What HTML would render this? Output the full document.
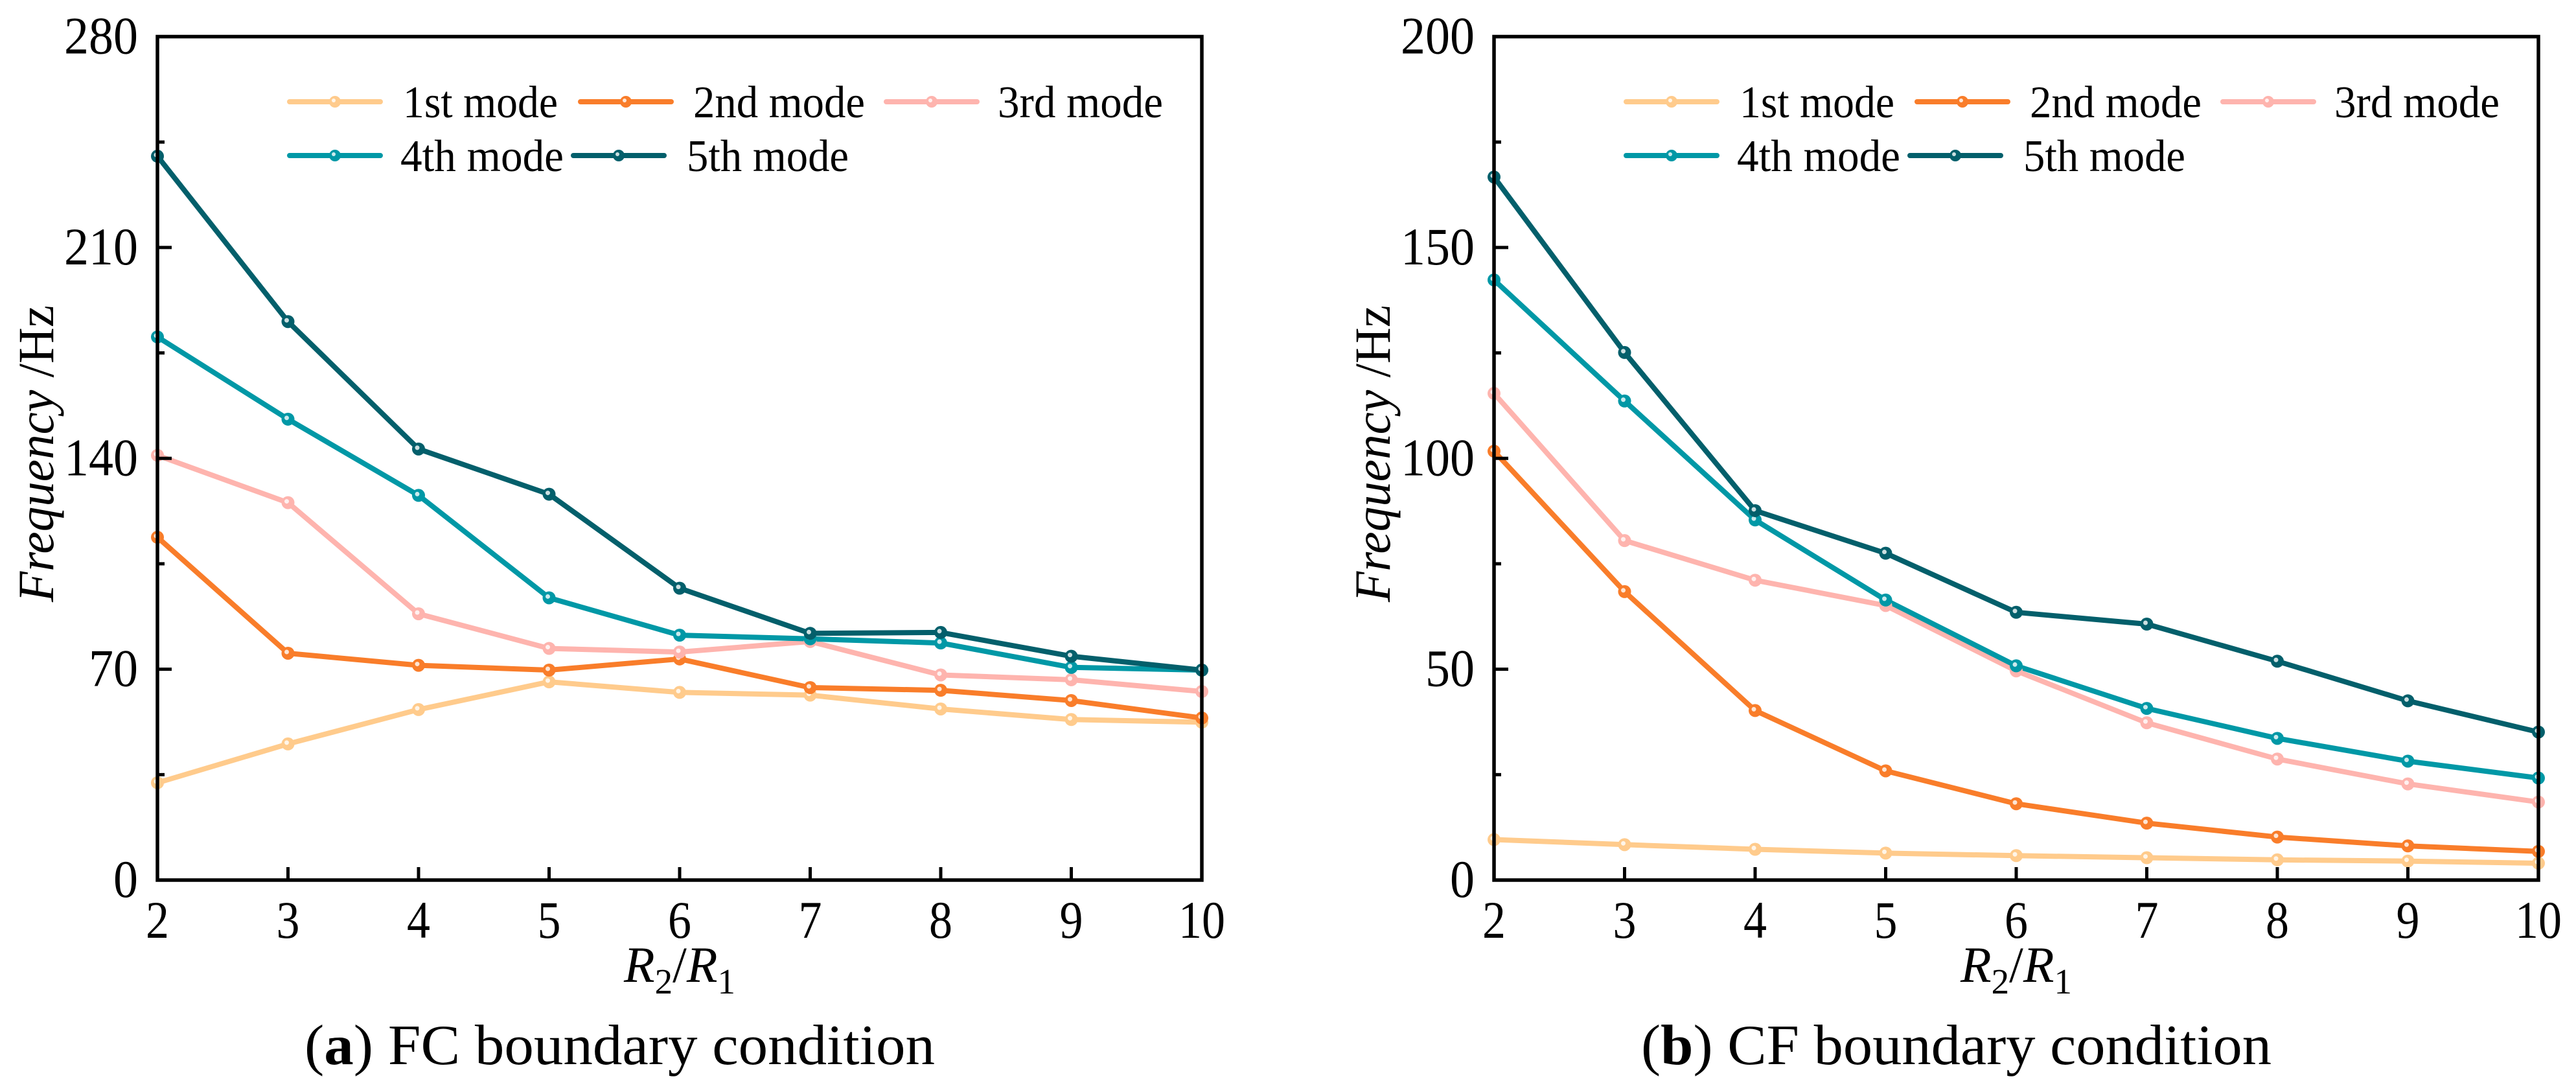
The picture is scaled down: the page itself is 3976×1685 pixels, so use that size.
<!DOCTYPE html>
<html><head><meta charset="utf-8"><style>html,body{margin:0;padding:0;background:#fff}svg{display:block}text{font-family:"Liberation Serif",serif;fill:#000}</style></head>
<body>
<svg id="fig" width="3976" height="1685" viewBox="0 0 3976 1685" xmlns="http://www.w3.org/2000/svg"></svg>
<script>
const xCats = [2,3,4,5,6,7,8,9,10];
const seriesNames = ["1st mode","2nd mode","3rd mode","4th mode","5th mode"];
const fcMode1 = [32.3,45.2,56.6,65.8,62.3,61.4,56.8,53.3,52.4];
const fcMode2 = [113.8,75.3,71.3,69.7,73.4,63.9,63.0,59.6,53.8];
const fcMode3 = [141.0,125.3,88.4,76.9,75.7,79.2,68.1,66.5,62.6];
const fcMode4 = [180.3,153.0,127.7,93.7,81.3,80.1,78.7,70.6,69.7];
const fcMode5 = [240.3,185.4,143.1,128.1,96.9,81.9,82.2,74.3,69.7];
const cfMode1 = [9.6,8.4,7.3,6.4,5.8,5.3,4.8,4.5,4.0];
const cfMode2 = [101.7,68.4,40.2,25.9,18.1,13.5,10.2,8.1,6.8];
const cfMode3 = [115.4,80.5,71.1,65.1,49.6,37.3,28.7,22.8,18.5];
const cfMode4 = [142.3,113.6,85.4,66.4,50.8,40.7,33.6,28.2,24.2];
const cfMode5 = [166.7,125.1,87.6,77.5,63.5,60.7,51.9,42.5,35.1];
const fcTicks = [0,70,140,210,280];
const cfTicks = [0,50,100,150,200];
const colors = ["#FFCB8C","#F97D2A","#FEB4AE","#0098A6","#035F6B"];

const NS="http://www.w3.org/2000/svg";
const svg=document.getElementById('fig');
function el(tag,attrs,parent){const e=document.createElementNS(NS,tag);for(const k in attrs)e.setAttribute(k,attrs[k]);(parent||svg).appendChild(e);return e;}

function drawPanel(ox, yTicks, series, caption, label){
  const L=ox, R=ox+1612, T=56.5, B=1358;
  const yMax=yTicks[yTicks.length-1];
  const xs=v=>L+(v-2)/8*(R-L);
  const ys=v=>B-v/yMax*(B-T);
  const g=el('g',{});
  
  
  series.forEach((vals,si)=>{
    const pts=vals.map((v,i)=>xs(xCats[i]).toFixed(1)+','+ys(v).toFixed(1)).join(' ');
    const pl=el('polyline',{points:pts,fill:'none',stroke:colors[si],'stroke-width':8,'stroke-linejoin':'round'},g);
    
    
  });
  series.forEach((vals,si)=>{
    vals.forEach((v,i)=>{
      const c=el('circle',{cx:xs(xCats[i]),cy:ys(v),r:10,fill:colors[si]},g);
      
      
      el('circle',{cx:xs(xCats[i])-2,cy:ys(v)-2,r:3.5,fill:'#fff',opacity:0.8},g);
    });
  });
  const fr=el('rect',{x:L,y:T,width:R-L,height:B-T,fill:'none',stroke:'#000','stroke-width':5.5},g);
  
  
  yTicks.forEach((t,i)=>{
    const y=ys(t);
    el('line',{x1:L,x2:L+22,y1:y,y2:y,stroke:'#000','stroke-width':5},g);
    const s=String(t);
    const tx=el('text',{x:L-30,y:y+26,'font-size':82,'text-anchor':'end',textLength:s.length*38,lengthAdjust:'spacingAndGlyphs'},g);
    tx.textContent=s;
    
    
    if(i<yTicks.length-1){
      const ym=ys((t+yTicks[i+1])/2);
      el('line',{x1:L,x2:L+11,y1:ym,y2:ym,stroke:'#000','stroke-width':5},g);
    }
  });
  xCats.forEach(v=>{
    const x=xs(v);
    el('line',{x1:x,x2:x,y1:B,y2:B-20,stroke:'#000','stroke-width':5},g);
    const s=String(v);
    const tx=el('text',{x:x,y:1447,'font-size':82,'text-anchor':'middle',textLength:s.length*36,lengthAdjust:'spacingAndGlyphs'},g);
    tx.textContent=s;
    
    
  });
  const xc=(L+R)/2;
  const xt=el('text',{x:xc,y:1515,'font-size':78,'text-anchor':'middle'},g);
  
  
  xt.innerHTML='<tspan font-style="italic">R</tspan><tspan font-size="55" dy="18">2</tspan><tspan dy="-18">/</tspan><tspan font-style="italic">R</tspan><tspan font-size="55" dy="18">1</tspan>';
  const yt=el('text',{transform:`translate(${L-161},700) rotate(-90)`,'font-size':78,'text-anchor':'middle',textLength:458,lengthAdjust:'spacingAndGlyphs'},g);
  
  
  yt.innerHTML='<tspan font-style="italic">Frequency</tspan> /Hz';
  const cp=el('text',{x:L+227,y:1642,'font-size':88,textLength:973,lengthAdjust:'spacingAndGlyphs'},g);
  
  
  cp.innerHTML='(<tspan font-weight="bold">'+caption[0]+'</tspan>) '+caption[1];
  // legend: [line x offset, y, text x offset, text length]
  const leg=[[204,157,379,239],[653,157,827,265],[1125,157,1297,255],[204,240,375,252],[642,240,817,250]];
  const lg=el('g',{},g);
  
  
  leg.forEach((p,i)=>{
    const lx=L+p[0], ly=p[1];
    const e=el('g',{},lg);
    
    
    el('line',{x1:lx,x2:lx+140,y1:ly,y2:ly,stroke:colors[i],'stroke-width':8,'stroke-linecap':'round'},e);
    el('circle',{cx:lx+70,cy:ly,r:9,fill:colors[i]},e);
    el('circle',{cx:lx+68,cy:ly-2,r:3,fill:'#fff',opacity:0.8},e);
    const t=el('text',{x:L+p[2],y:ly+24,'font-size':70,textLength:p[3],lengthAdjust:'spacingAndGlyphs'},e);
    t.textContent=seriesNames[i];
  });
}
drawPanel(243,fcTicks,[fcMode1,fcMode2,fcMode3,fcMode4,fcMode5],['a','FC boundary condition'],'fc');
drawPanel(2306,cfTicks,[cfMode1,cfMode2,cfMode3,cfMode4,cfMode5],['b','CF boundary condition'],'cf');
</script>
</body></html>
